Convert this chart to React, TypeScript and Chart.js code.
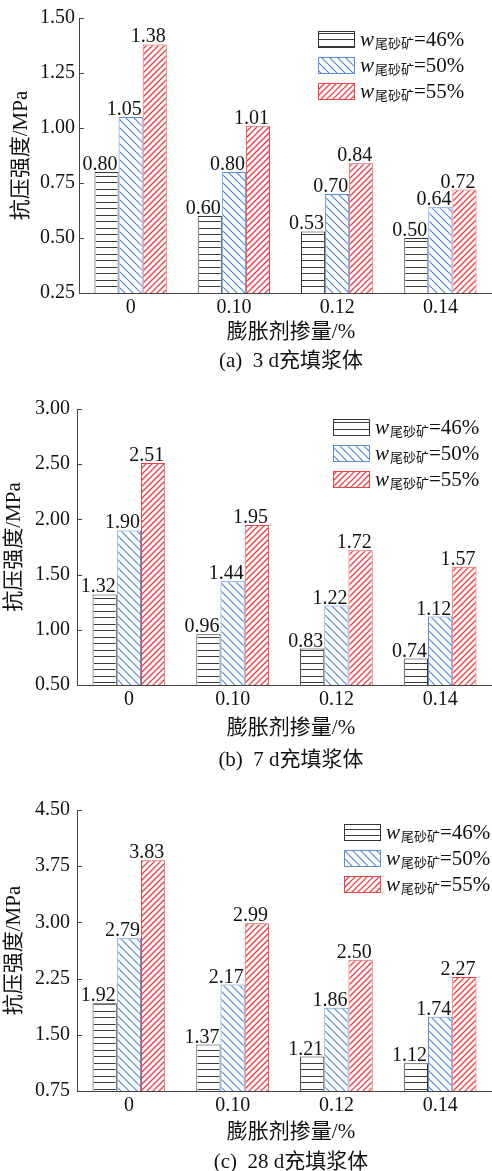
import React, { useEffect, useRef } from 'react';
import { Chart, registerables } from 'chart.js';

Chart.register(...registerables);

// Expansive agent dosage (%) on the x axis
const doseLabels = ['0', '0.10', '0.12', '0.14'];
// Tailings mass fraction of each series
const tailingLabels = ['46%', '50%', '55%'];

// Compressive strength (MPa), 3 d curing
const day3_46 = [0.8, 0.6, 0.53, 0.5];
const day3_50 = [1.05, 0.8, 0.7, 0.64];
const day3_55 = [1.38, 1.01, 0.84, 0.72];
// 7 d curing
const day7_46 = [1.32, 0.96, 0.83, 0.74];
const day7_50 = [1.9, 1.44, 1.22, 1.12];
const day7_55 = [2.51, 1.95, 1.72, 1.57];
// 28 d curing
const day28_46 = [1.92, 1.37, 1.21, 1.12];
const day28_50 = [2.79, 2.17, 1.86, 1.74];
const day28_55 = [3.83, 2.99, 2.5, 2.27];

// y tick values of each panel
const yTicks3 = [0.25, 0.5, 0.75, 1.0, 1.25, 1.5];
const yTicks7 = [0.5, 1.0, 1.5, 2.0, 2.5, 3.0];
const yTicks28 = [0.75, 1.5, 2.25, 3.0, 3.75, 4.5];

const FONT = "'Liberation Serif', 'Times New Roman', 'Noto Sans CJK SC', serif";
const TEXT = '#111';
const AXIS = '#444';

type Hatch = 'h' | 'back' | 'fwd';
const seriesStyle: { hatch: Hatch; step: number; width: number; line: string; border: string }[] = [
  { hatch: 'h', step: 6.5, width: 1, line: '#3c3c3c', border: '#333333' },
  { hatch: 'back', step: 8, width: 1.1, line: '#4f86da', border: '#5a8ddb' },
  { hatch: 'fwd', step: 6, width: 1.3, line: '#ec3f46', border: '#e8454b' },
];

// Fill a rectangle with hatch lines in canvas-fixed phase
function drawHatch(ctx: CanvasRenderingContext2D, style: (typeof seriesStyle)[number], l: number, t: number, r: number, b: number) {
  if (r <= l || b <= t) return;
  const s = style.step;
  ctx.save();
  ctx.beginPath();
  ctx.rect(l, t, r - l, b - t);
  ctx.clip();
  ctx.strokeStyle = style.line;
  ctx.lineWidth = style.width;
  ctx.beginPath();
  if (style.hatch === 'h') {
    for (let y = Math.floor(t / s) * s; y <= b + s; y += s) {
      const py = Math.round(y) + 0.5;
      ctx.moveTo(l, py);
      ctx.lineTo(r, py);
    }
  } else if (style.hatch === 'back') {
    // lines with x - y = c
    for (let c = Math.floor((l - b) / s) * s; c <= r - t + s; c += s) {
      ctx.moveTo(c + t - 1, t - 1);
      ctx.lineTo(c + b + 1, b + 1);
    }
  } else {
    // lines with x + y = c
    for (let c = Math.floor((l + t) / s) * s; c <= r + b + s; c += s) {
      ctx.moveTo(c - b - 1, b + 1);
      ctx.lineTo(c - t + 1, t - 1);
    }
  }
  ctx.stroke();
  ctx.restore();
}

// Hatching inside every bar, kept inside the plot area
const barHatch = {
  id: 'barHatch',
  afterDatasetsDraw(chart: any) {
    const ctx = chart.ctx;
    const area = chart.chartArea;
    chart.data.datasets.forEach((_ds: any, di: number) => {
      const meta = chart.getDatasetMeta(di);
      meta.data.forEach((bar: any) => {
        const p = bar.getProps(['x', 'y', 'base', 'width'], true);
        const l = p.x - p.width / 2 + 1;
        const r = p.x + p.width / 2 - 1;
        const t = Math.max(Math.min(p.y, p.base) + 1, area.top);
        const b = Math.min(Math.max(p.y, p.base), area.bottom);
        drawHatch(ctx, seriesStyle[di], l, t, r, b);
      });
    });
  },
};

// Short tick marks pointing into the plot from the y axis
const innerTicks = {
  id: 'innerTicks',
  afterDraw(chart: any) {
    const y = chart.scales.y;
    const ctx = chart.ctx;
    const left = chart.chartArea.left;
    ctx.save();
    ctx.strokeStyle = AXIS;
    ctx.lineWidth = 1;
    y.ticks.forEach((t: any) => {
      const py = Math.round(y.getPixelForValue(t.value)) + 0.5;
      ctx.beginPath();
      ctx.moveTo(left, py);
      ctx.lineTo(left + 5, py);
      ctx.stroke();
    });
    ctx.restore();
  },
};

// Rotated y axis title, centred on the plot height
const yTitle = {
  id: 'yTitle',
  afterDraw(chart: any, _args: any, opts: any) {
    const ctx = chart.ctx;
    const { top, bottom } = chart.chartArea;
    ctx.save();
    ctx.translate(opts.x, (top + bottom) / 2);
    ctx.rotate(-Math.PI / 2);
    ctx.font = `21px ${FONT}`;
    ctx.fillStyle = TEXT;
    ctx.textAlign = 'center';
    ctx.textBaseline = 'middle';
    ctx.fillText(opts.text, 0, 0);
    ctx.restore();
  },
};

// Value printed on top of every bar
const valueLabels = {
  id: 'valueLabels',
  afterDatasetsDraw(chart: any) {
    const ctx = chart.ctx;
    ctx.save();
    ctx.font = `20px ${FONT}`;
    ctx.fillStyle = TEXT;
    ctx.textAlign = 'right';
    ctx.textBaseline = 'alphabetic';
    chart.data.datasets.forEach((ds: any, di: number) => {
      const meta = chart.getDatasetMeta(di);
      meta.data.forEach((bar: any, i: number) => {
        const p = bar.getProps(['x', 'y', 'width'], true);
        ctx.fillText(Number(ds.data[i]).toFixed(2), p.x + p.width / 2 - 1, p.y - 2);
      });
    });
    ctx.restore();
  },
};

// Legend with hatched swatches and subscripted symbol
const hatchLegend = {
  id: 'hatchLegend',
  afterDraw(chart: any, _args: any, opts: any) {
    const ctx = chart.ctx;
    ctx.save();
    chart.data.datasets.forEach((ds: any, i: number) => {
      const cy = opts.y + i * opts.gap;
      const bx = opts.x;
      const bw = 36;
      const bh = 16;
      const top = Math.round(cy - bh / 2);
      ctx.fillStyle = '#ffffff';
      ctx.fillRect(bx, top, bw, bh);
      drawHatch(ctx, seriesStyle[i], bx + 1, top + 1, bx + bw, top + bh);
      ctx.strokeStyle = ds.borderColor;
      ctx.lineWidth = 1;
      ctx.strokeRect(bx + 0.5, top + 0.5, bw, bh);
      let tx = bx + bw + 6;
      ctx.fillStyle = TEXT;
      ctx.textAlign = 'left';
      ctx.textBaseline = 'alphabetic';
      ctx.font = `italic 21px ${FONT}`;
      ctx.fillText('w', tx, cy + 7);
      tx += ctx.measureText('w').width + 1;
      ctx.font = `13px ${FONT}`;
      ctx.fillText('尾砂矿', tx, cy + 9);
      tx += ctx.measureText('尾砂矿').width;
      ctx.font = `21px ${FONT}`;
      ctx.fillText('=' + tailingLabels[i], tx, cy + 7);
    });
    ctx.restore();
  },
};

type PanelLayout = {
  canvasTop: number;
  plotTop: number;
  plotBottom: number;
  axisLeft: number;
  tickPad: number;
  yTitleX: number;
  legendX: number;
  legendY: number;
  xTitleY: number;
  captionY: number;
};

type PanelCfg = {
  caption: string;
  series: number[][];
  yTicks: number[];
  layout: PanelLayout;
};

const panels: PanelCfg[] = [
  {
    caption: '(a)  3 d充填浆体',
    series: [day3_46, day3_50, day3_55],
    yTicks: yTicks3,
    layout: { canvasTop: 0, plotTop: 18, plotBottom: 293, axisLeft: 79, tickPad: 4, yTitleX: 21, legendX: 318, legendY: 39, xTitleY: 331, captionY: 360 },
  },
  {
    caption: '(b)  7 d充填浆体',
    series: [day7_46, day7_50, day7_55],
    yTicks: yTicks7,
    layout: { canvasTop: 370, plotTop: 409, plotBottom: 685, axisLeft: 77, tickPad: 7, yTitleX: 14, legendX: 333, legendY: 427, xTitleY: 727, captionY: 759 },
  },
  {
    caption: '(c)  28 d充填浆体',
    series: [day28_46, day28_50, day28_55],
    yTicks: yTicks28,
    layout: { canvasTop: 770, plotTop: 810, plotBottom: 1091, axisLeft: 77, tickPad: 7, yTitleX: 14, legendX: 344, legendY: 832, xTitleY: 1131, captionY: 1161 },
  },
];

const X_AXIS_BOX = 30;
const WIDTH = 492;
const TEXT_CENTER_X = 291;

function Panel({ cfg }: { cfg: PanelCfg }) {
  const ref = useRef<HTMLCanvasElement>(null);
  const L = cfg.layout;
  const height = L.plotBottom - L.canvasTop + X_AXIS_BOX;

  useEffect(() => {
    const canvas = ref.current;
    if (!canvas) return;
    const ticks = cfg.yTicks;
    const chart = new Chart(canvas, {
      type: 'bar',
      data: {
        labels: doseLabels,
        datasets: cfg.series.map((vals, i) => ({
          label: 'w尾砂矿=' + tailingLabels[i],
          data: vals,
          backgroundColor: '#ffffff',
          borderColor: seriesStyle[i].border,
          borderWidth: 1,
          borderSkipped: 'bottom' as const,
          categoryPercentage: 0.7,
          barPercentage: 1.0,
        })),
      },
      options: {
        responsive: false,
        animation: false,
        devicePixelRatio: 1,
        layout: { padding: { top: L.plotTop - L.canvasTop, left: 0, right: 0, bottom: 0 } },
        plugins: {
          legend: { display: false },
          tooltip: { enabled: false },
          hatchLegend: { x: L.legendX, y: L.legendY - L.canvasTop, gap: 26 },
          yTitle: { x: L.yTitleX, text: '抗压强度/MPa' },
        } as any,
        scales: {
          x: {
            offset: true,
            grid: { display: false, drawTicks: false },
            border: { display: true, color: AXIS, width: 1 },
            ticks: { color: TEXT, font: { family: FONT, size: 20 }, padding: 3, maxRotation: 0, autoSkip: false },
            afterFit: (s: any) => {
              s.height = X_AXIS_BOX;
            },
          } as any,
          y: {
            min: ticks[0],
            max: ticks[ticks.length - 1],
            grid: { display: false, drawTicks: false },
            border: { display: true, color: AXIS, width: 1 },
            ticks: {
              stepSize: ticks[1] - ticks[0],
              color: TEXT,
              font: { family: FONT, size: 20 },
              padding: L.tickPad,
              callback: (v: any) => Number(v).toFixed(2),
            },
            afterFit: (s: any) => {
              s.width = L.axisLeft;
            },
          } as any,
        },
      },
      plugins: [barHatch, innerTicks, valueLabels, hatchLegend, yTitle],
    });
    return () => chart.destroy();
  }, [cfg]);

  const textStyle: React.CSSProperties = {
    position: 'absolute',
    left: TEXT_CENTER_X,
    transform: 'translate(-50%, -50%)',
    whiteSpace: 'pre',
    fontFamily: FONT,
    fontSize: 21,
    color: TEXT,
    lineHeight: 1,
  };

  return (
    <>
      <canvas
        ref={ref}
        width={WIDTH}
        height={height}
        style={{ position: 'absolute', left: 0, top: L.canvasTop, width: WIDTH, height }}
      />
      <div style={{ ...textStyle, top: L.xTitleY }}>膨胀剂掺量/%</div>
      <div style={{ ...textStyle, top: L.captionY }}>{cfg.caption}</div>
    </>
  );
}

export default function App() {
  return (
    <div
      style={{
        position: 'absolute',
        left: 0,
        top: 0,
        width: WIDTH,
        height: 1171,
        background: '#fff',
        overflow: 'hidden',
      }}
    >
      {panels.map((p, i) => (
        <Panel key={i} cfg={p} />
      ))}
    </div>
  );
}
